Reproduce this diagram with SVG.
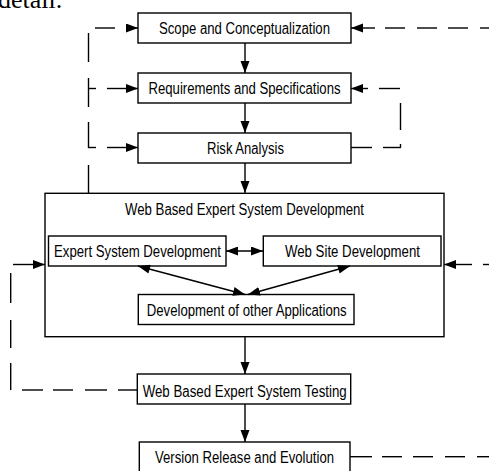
<svg xmlns="http://www.w3.org/2000/svg" width="489" height="471" viewBox="0 0 489 471">
<style>
.box{fill:#fff;stroke:#000;stroke-width:1.4}
.t{font-family:"Liberation Sans",Arial,sans-serif;font-size:16px;fill:#000}
.c{stroke:#000;stroke-width:1.4;fill:none}
.a{stroke:#000;stroke-width:1.4;fill:none;marker-end:url(#ah)}
.b{stroke:#000;stroke-width:1.4;fill:none;marker-end:url(#ah);marker-start:url(#ahs)}
</style>
<defs>
<marker id="ah" markerUnits="userSpaceOnUse" markerWidth="14" markerHeight="10" refX="12" refY="4.5" orient="auto"><path d="M0,0 L12,4.5 L0,9 Z" fill="#000"/></marker>
<marker id="ahs" markerUnits="userSpaceOnUse" markerWidth="14" markerHeight="10" refX="0" refY="4.5" orient="auto"><path d="M12,0 L0,4.5 L12,9 Z" fill="#000"/></marker>
</defs>
<rect width="489" height="471" fill="#fff"/>
<text x="-2" y="8" font-family="'Liberation Serif',serif" font-size="26" fill="#000">detail.</text>

<g id="scope"><rect class="box" x="138" y="13" width="213" height="30"/><text class="t" x="159" y="33.5" textLength="171" lengthAdjust="spacingAndGlyphs">Scope and Conceptualization</text></g>
<g id="requirements"><rect class="box" x="138" y="73" width="213" height="30"/><text class="t" x="148.5" y="94" textLength="192" lengthAdjust="spacingAndGlyphs">Requirements and Specifications</text></g>
<g id="risk"><rect class="box" x="138" y="133" width="213" height="30"/><text class="t" x="207" y="154" textLength="77" lengthAdjust="spacingAndGlyphs">Risk Analysis</text></g>
<g id="wbesd"><rect class="box" x="45" y="193.3" width="399" height="143.4"/><text class="t" x="125" y="215" textLength="239" lengthAdjust="spacingAndGlyphs">Web Based Expert System Development</text></g>
<g id="esd"><rect class="box" x="48.5" y="236" width="177.5" height="30"/><text class="t" x="54" y="256.7" textLength="167" lengthAdjust="spacingAndGlyphs">Expert System Development</text></g>
<g id="wsd"><rect class="box" x="263.3" y="236" width="177.7" height="30"/><text class="t" x="285" y="256.7" textLength="135" lengthAdjust="spacingAndGlyphs">Web Site Development</text></g>
<g id="doa"><rect class="box" x="138.3" y="294.5" width="215.7" height="30"/><text class="t" x="146.7" y="315.7" textLength="200" lengthAdjust="spacingAndGlyphs">Development of other Applications</text></g>
<g id="testing"><rect class="box" x="137.3" y="374" width="213.4" height="30"/><text class="t" x="142.7" y="397.3" textLength="204" lengthAdjust="spacingAndGlyphs">Web Based Expert System Testing</text></g>
<g id="version"><rect class="box" x="139.3" y="442" width="210.7" height="31"/><text class="t" x="155" y="463" textLength="179" lengthAdjust="spacingAndGlyphs">Version Release and Evolution</text></g>

<g id="connectors">
<line class="a" x1="245" y1="43" x2="245" y2="73"/>
<line class="a" x1="245" y1="103" x2="245" y2="133"/>
<line class="a" x1="245" y1="163" x2="245" y2="193"/>
<line class="a" x1="245" y1="337" x2="245" y2="374"/>
<line class="a" x1="245" y1="404" x2="245" y2="442"/>
<line class="b" x1="226" y1="251" x2="263" y2="251"/>
<line class="b" x1="138" y1="266" x2="245" y2="294.5"/>
<line class="b" x1="350" y1="266" x2="248" y2="294.5"/>
<line class="c" x1="88.5" y1="33" x2="88.5" y2="62"/>
<line class="c" x1="88.5" y1="78" x2="88.5" y2="107"/>
<line class="c" x1="88.5" y1="122" x2="88.5" y2="148"/>
<line class="c" x1="88.5" y1="165" x2="88.5" y2="193"/>
<line class="c" x1="95" y1="28" x2="115" y2="28"/>
<line class="a" x1="126" y1="28" x2="138" y2="28"/>
<line class="c" x1="88" y1="88.5" x2="96" y2="88.5"/>
<line class="a" x1="107" y1="88.5" x2="138" y2="88.5"/>
<line class="c" x1="88" y1="147.5" x2="96" y2="147.5"/>
<line class="a" x1="107" y1="147.5" x2="138" y2="147.5"/>
<line class="a" x1="375" y1="28" x2="351" y2="28"/>
<line class="c" x1="385" y1="28" x2="405" y2="28"/>
<line class="c" x1="417" y1="28" x2="437" y2="28"/>
<line class="c" x1="448" y1="28" x2="468" y2="28"/>
<line class="c" x1="480" y1="28" x2="489" y2="28"/>
<line class="a" x1="368" y1="88.5" x2="351" y2="88.5"/>
<line class="c" x1="379" y1="88.5" x2="400" y2="88.5"/>
<line class="c" x1="400.5" y1="103" x2="400.5" y2="130"/>
<line class="c" x1="400.5" y1="144" x2="400.5" y2="147.5"/>
<line class="c" x1="383" y1="147.5" x2="401" y2="147.5"/>
<line class="c" x1="351" y1="147.5" x2="372" y2="147.5"/>
<line class="a" x1="472" y1="264.5" x2="444" y2="264.5"/>
<line class="c" x1="483" y1="264.5" x2="489" y2="264.5"/>
<line class="a" x1="13" y1="264.5" x2="45" y2="264.5"/>
<line class="c" x1="10.7" y1="273" x2="10.7" y2="303"/>
<line class="c" x1="10.7" y1="320" x2="10.7" y2="348"/>
<line class="c" x1="10.7" y1="363" x2="10.7" y2="390"/>
<line class="c" x1="22" y1="390" x2="43" y2="390"/>
<line class="c" x1="53" y1="390" x2="73" y2="390"/>
<line class="c" x1="85" y1="390" x2="107" y2="390"/>
<line class="c" x1="118" y1="390" x2="137" y2="390"/>
<line class="c" x1="350" y1="456.7" x2="372" y2="456.7"/>
<line class="c" x1="382" y1="456.7" x2="402" y2="456.7"/>
<line class="c" x1="413" y1="456.7" x2="433" y2="456.7"/>
<line class="c" x1="445" y1="456.7" x2="465" y2="456.7"/>
<line class="c" x1="477" y1="456.7" x2="489" y2="456.7"/>
</g>
</svg>
